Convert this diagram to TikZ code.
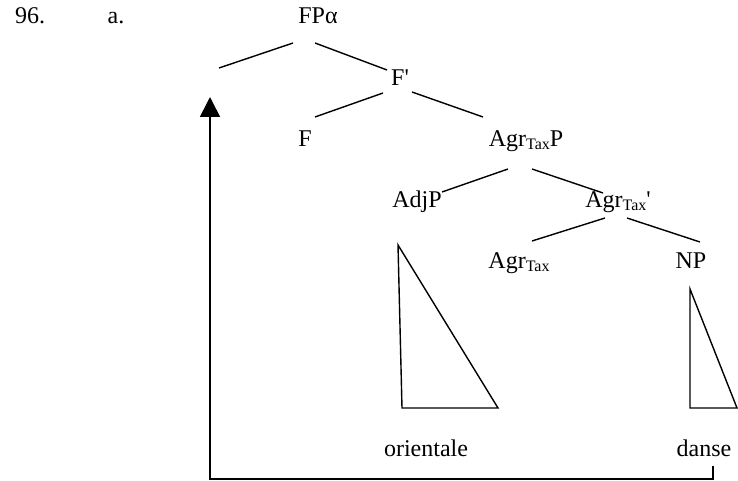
\documentclass[tikz,border=0pt]{standalone}
\usepackage{fontspec}
\setmainfont{Liberation Serif}
\usepackage{tikz}
\usetikzlibrary{arrows.meta}
\tikzset{
  cat/.style    = {anchor=base, inner sep=0pt, text=black},
  branch/.style = {line width=1.4pt},
  roof/.style   = {line width=1.4pt, line join=miter},
  move/.style   = {line width=1.6pt, -{Triangle[length=20pt,width=20pt]}},
}
\newcommand{\agrT}{Agr\raisebox{-3pt}{\fontsize{16}{16}\selectfont Tax}}

\begin{document}
\begin{tikzpicture}[x=1pt, y=-1pt, font=\fontsize{24}{28}\selectfont]
\useasboundingbox (0,0) rectangle (738,481);

% baselines of the tree levels (px from the top)
\def\lvA{24}
\def\lvB{86}
\def\lvC{147}
\def\lvD{207}
\def\lvE{268}
\def\lvW{456}

% --- example number ---
\node[cat] (exnum) at (30,\lvA) {96.};
\node[cat] (exsub) at (116,\lvA) {a.};

% --- tree nodes ---
\node[cat] (FPa)  at (318,\lvA) {FPα};
\coordinate (trace) at (219,68);
\node[cat] (Fbar) at (400,\lvB) {F\textquotesingle};
\node[cat] (F)    at (305,\lvC) {F};
\node[cat] (AgrP) at (526,\lvC) {\agrT P};
\node[cat] (AdjP) at (417,\lvD) {AdjP};
\node[cat] (Agrb) at (618,\lvD) {\agrT\textquotesingle};
\node[cat] (Agr)  at (519,\lvE) {\agrT};
\node[cat] (NP)   at (691,\lvE) {NP};
\node[cat] (orientale) at (426,\lvW) {orientale};
\node[cat] (danse)     at (704,\lvW) {danse};

% --- branches ---
\draw[branch] ([shift={(-25,19)}]FPa.base)  -- (trace);
\draw[branch] ([shift={(-3,19)}]FPa.base)   -- ([shift={(-13,-16)}]Fbar.base);
\draw[branch] ([shift={(-17,7)}]Fbar.base)  -- ([shift={(10,-30)}]F.base);
\draw[branch] ([shift={(12,6)}]Fbar.base)   -- ([shift={(-43,-30)}]AgrP.base);
\draw[branch] ([shift={(-18,22)}]AgrP.base) -- ([shift={(25,-15)}]AdjP.base);
\draw[branch] ([shift={(6,22)}]AgrP.base)   -- ([shift={(-15,-14)}]Agrb.base);
\draw[branch] ([shift={(-13,11)}]Agrb.base) -- ([shift={(13,-27)}]Agr.base);
\draw[branch] ([shift={(9,11)}]Agrb.base)   -- ([shift={(9,-26)}]NP.base);

% --- roofs over the words ---
\draw[roof] (398,245) -- (402,408) -- (498,408) -- cycle;
\draw[roof] (690,289) -- (690,408) -- (737,408) -- cycle;

% --- movement of the NP up to the empty spec ---
\coordinate (land) at (210,97);
\draw[move] ([shift={(9,10)}]danse.base) -- ++(0,13) -| (land);

\end{tikzpicture}
\end{document}
